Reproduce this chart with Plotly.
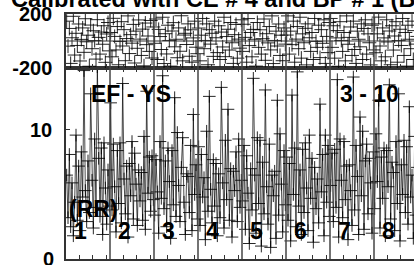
import plotly.graph_objects as go

# ---- data ----
sections = ["1", "2", "3", "4", "5", "6", "7", "8"]
points_per_section = 33

top_vals = [
    [147, -38, 93, -166, 24, 183, -104, 57, -33, 126, -148, 12, 97, -84, 165, -6, 43, -187, 118, -57, 76, 3, -134, 158, 27, -97, 66, -24, 113, -158, 52, 137, -73],
    [63, -117, 168, 34, -66, 107, -176, -4, 143, -37, 84, -146, 18, 186, -93, 47, -16, 123, -163, 73, -54, 156, 14, -107, 88, -184, 133, -27, 37, -77, 152, -126, 104],
    [-17, 163, -137, 86, 33, -63, 176, -167, 54, -96, 117, 4, -186, 74, 136, -43, 13, -124, 97, -76, 187, -147, 44, 57, -26, 127, -113, 83, -157, 23, 147, -46, -94],
    [96, -147, 43, 167, -57, 4, 127, -176, 84, -23, 57, -114, 147, 24, -86, 113, -137, 66, -44, 176, -116, 33, 87, -67, 137, -13, -166, 47, 123, -127, 14, -53, 157],
    [-77, 124, 27, -157, 166, -34, 63, -117, 86, 13, -186, 137, -47, 83, -97, 17, 163, -143, 54, -14, 107, -66, 186, -167, 4, 73, -37, 126, -107, 43, -146, 97, -23],
    [44, 186, -97, 73, -27, 147, -157, 14, 107, -57, 176, -127, 53, -13, 94, -177, 127, 24, -77, 63, -137, 167, -3, -47, 117, -123, 84, -17, 157, -166, 34, -86, 137],
    [167, -47, 113, -127, 23, 77, -187, 143, 4, -77, 63, -147, 186, -24, 27, 104, -107, 147, -63, -166, 73, 13, -43, 127, -137, 93, 157, -97, 53, -13, -177, 117, -66],
    [127, -87, 53, 177, -37, -147, 97, 23, -117, 157, -7, 74, -176, 113, -67, 37, 143, -157, 3, 87, -33, 167, -107, 63, -186, 117, 13, -57, 147, -137, 77, -23, 34],
]

bottom_vals = [
    [6.5, 3.2, 8.1, 2.5, 5.9, 1.8, 4.4, 9.6, 3.0, 7.2, 2.2, 8.3, 4.8, 14.6, 5.3, 2.9, 7.6, 3.6, 12.8, 6.1, 2.4, 9.3, 4.0, 14.9, 7.8, 3.3, 8.6, 1.9, 9.0, 5.5, 2.7, 6.9, 4.1],
    [12.1, 3.8, 8.9, 5.6, 2.1, 8.4, 4.3, 9.0, 2.8, 13.6, 6.2, 3.5, 7.2, 1.7, 7.4, 4.9, 9.1, 3.1, 8.2, 5.8, 2.6, 6.9, 4.5, 6.7, 3.0, 9.5, 2.3, 13.0, 5.1, 7.9, 3.7, 8.0, 4.6],
    [3.4, 7.7, 5.2, 2.0, 9.1, 4.7, 14.2, 3.9, 7.6, 2.5, 8.6, 6.0, 1.6, 8.4, 4.2, 12.5, 3.3, 9.8, 5.7, 2.9, 7.1, 9.4, 4.4, 1.9, 6.6, 6.4, 3.6, 8.8, 2.2, 11.2, 5.0, 7.3, 3.1],
    [8.7, 2.6, 8.1, 4.8, 6.3, 1.5, 9.9, 3.7, 12.6, 5.4, 2.8, 7.7, 4.1, 7.4, 1.8, 6.6, 3.2, 13.3, 5.9, 2.4, 9.2, 4.6, 11.6, 3.0, 7.0, 1.7, 6.8, 5.3, 8.3, 2.9, 9.3, 4.0, 6.1],
    [4.5, 8.8, 2.3, 8.0, 5.1, 1.2, 7.0, 3.8, 14.0, 6.5, 2.0, 9.4, 4.3, 9.2, 1.0, 7.5, 3.5, 13.1, 5.6, 2.7, 8.9, 0.9, 6.5, 4.9, 6.8, 1.6, 12.3, 3.4, 9.7, 5.8, 2.1, 8.4, 4.2],
    [7.9, 3.0, 7.4, 1.4, 12.7, 5.0, 8.6, 2.5, 14.5, 4.1, 6.9, 1.9, 8.5, 3.6, 9.0, 5.5, 2.2, 9.6, 4.7, 7.8, 1.3, 7.1, 3.9, 6.2, 2.8, 12.0, 5.2, 8.1, 1.8, 9.6, 4.4, 8.8, 3.3],
    [5.7, 8.2, 2.9, 8.5, 4.0, 13.9, 1.7, 9.3, 6.1, 3.2, 9.1, 4.6, 7.2, 1.5, 7.3, 5.3, 2.6, 14.1, 3.8, 8.8, 6.4, 1.9, 11.0, 4.9, 9.9, 2.3, 7.6, 8.9, 3.5, 7.8, 5.9, 2.0, 8.3],
    [3.9, 9.7, 6.0, 12.3, 2.4, 7.9, 4.7, 8.6, 1.8, 8.4, 5.6, 13.5, 3.1, 7.5, 6.7, 2.2, 9.1, 4.3, 12.8, 1.4, 7.3, 5.0, 9.2, 3.6, 8.7, 2.7, 11.8, 4.8, 6.5, 1.6, 9.5, 3.4, 7.1],
]

title_text = "Calibrated with CE # 4 and BP # 1 (B"
top_ticks = [-200, 200]
top_ticktext = ["-200", "200"]
bottom_ticks = [0, 10]
bottom_ticktext = ["0", "10"]
panel_texts = ["EF - YS", "3 - 10", "(RR)"]

# ---- figure ----
W, H = 414, 265
FONT = "Liberation Sans, Arial, sans-serif"

xs, ytop, ybot = [], [], []
for s in range(len(sections)):
    for i in range(points_per_section):
        xs.append(s * points_per_section + i + 0.5)
        ytop.append(top_vals[s][i])
        ybot.append(bottom_vals[s][i])

fig = go.Figure()
fig.add_trace(go.Scatter(
    x=xs, y=ybot, mode="lines+markers", xaxis="x", yaxis="y",
    line=dict(color="rgba(0,0,0,0.7)", width=1),
    marker=dict(symbol="cross-thin", size=9, line=dict(color="rgba(0,0,0,0.85)", width=1)),
    showlegend=False, hoverinfo="skip"))
fig.add_trace(go.Scatter(
    x=xs, y=ytop, mode="markers", xaxis="x2", yaxis="y2",
    marker=dict(symbol="cross-thin", size=10, line=dict(color="rgba(0,0,0,0.85)", width=1)),
    showlegend=False, hoverinfo="skip"))

x_left = 66 / W
xmax = (W - 66) / 44 * points_per_section
tickv = [s * points_per_section + k for s in range(len(sections)) for k in (10, 20, 30)]

ax_common = dict(range=[0, xmax], domain=[x_left, 1], showgrid=False, zeroline=False,
                 showline=True, linecolor="#333", linewidth=1.5, automargin=False,
                 ticks="inside", ticklen=4, tickcolor="#333", tickwidth=1,
                 tickvals=tickv, showticklabels=False)

bot_dom = [6 / H, 197 / H]
top_dom = [197 / H, 251 / H]
tick_font = dict(family=FONT, size=20, color="black", weight="bold")

fig.update_layout(
    width=W, height=H, margin=dict(l=0, r=0, t=0, b=0, autoexpand=False),
    paper_bgcolor="white", plot_bgcolor="white",
    xaxis=dict(**ax_common, anchor="y", mirror="ticks"),
    xaxis2=dict(**ax_common, anchor="y2", mirror=True, matches="x"),
    yaxis=dict(domain=bot_dom, range=[0, 14.8], tickvals=bottom_ticks,
               ticktext=[""] + bottom_ticktext[1:],
               anchor="x", automargin=False,
               showgrid=False, zeroline=False, showline=True, linecolor="#333", linewidth=1.5,
               ticks="inside", ticklen=4, tickcolor="#333", ticklabelstandoff=8,
               tickfont=tick_font),
    yaxis2=dict(domain=top_dom, range=[-200, 200], tickvals=top_ticks, ticktext=top_ticktext,
                anchor="x2", automargin=False,
                showgrid=False, zeroline=False, showline=True, linecolor="#333", linewidth=1.5,
                ticks="", ticklabelstandoff=8, tickfont=tick_font),
    font=dict(family=FONT),
)

# the bottom "0" tick label sits on the figure's lower edge; draw it as text
fig.add_annotation(x=56 / W, y=bottom_ticks[0], xref="paper", yref="y", xanchor="right",
                   text=bottom_ticktext[0], showarrow=False, font=tick_font)

# section separators and zero line in top panel
for s in range(1, len(sections)):
    fig.add_shape(type="line", xref="x", yref="paper",
                  x0=s * points_per_section, x1=s * points_per_section,
                  y0=bot_dom[0], y1=top_dom[1], line=dict(color="#444", width=1.5))
fig.add_shape(type="line", xref="paper", yref="y2", x0=x_left, x1=1, y0=0, y1=0,
              line=dict(color="#333", width=1.2))

ann_font = dict(family=FONT, size=23, color="black", weight="bold")
for s, lab in enumerate(sections):
    fig.add_annotation(x=s * points_per_section + 11, y=2.2, xref="x", yref="y",
                       text=lab, showarrow=False, font=ann_font)
fig.add_annotation(x=48.75, y=12.8, xref="x", yref="y", text=panel_texts[0], showarrow=False, font=ann_font)
fig.add_annotation(x=227.3, y=12.8, xref="x", yref="y", text=panel_texts[1], showarrow=False, font=ann_font)
fig.add_annotation(x=20.3, y=3.9, xref="x", yref="y", text=panel_texts[2], showarrow=False, font=ann_font)

fig.add_annotation(x=9 / W, y=1 - 14 / H, xref="paper", yref="paper", xanchor="left", yanchor="bottom",
                   text=title_text, showarrow=False,
                   font=dict(family=FONT, size=23.5, color="black", weight="bold"))

fig.write_html("out.html", config={"displayModeBar": False},
               post_script="document.body.style.margin='0';")
